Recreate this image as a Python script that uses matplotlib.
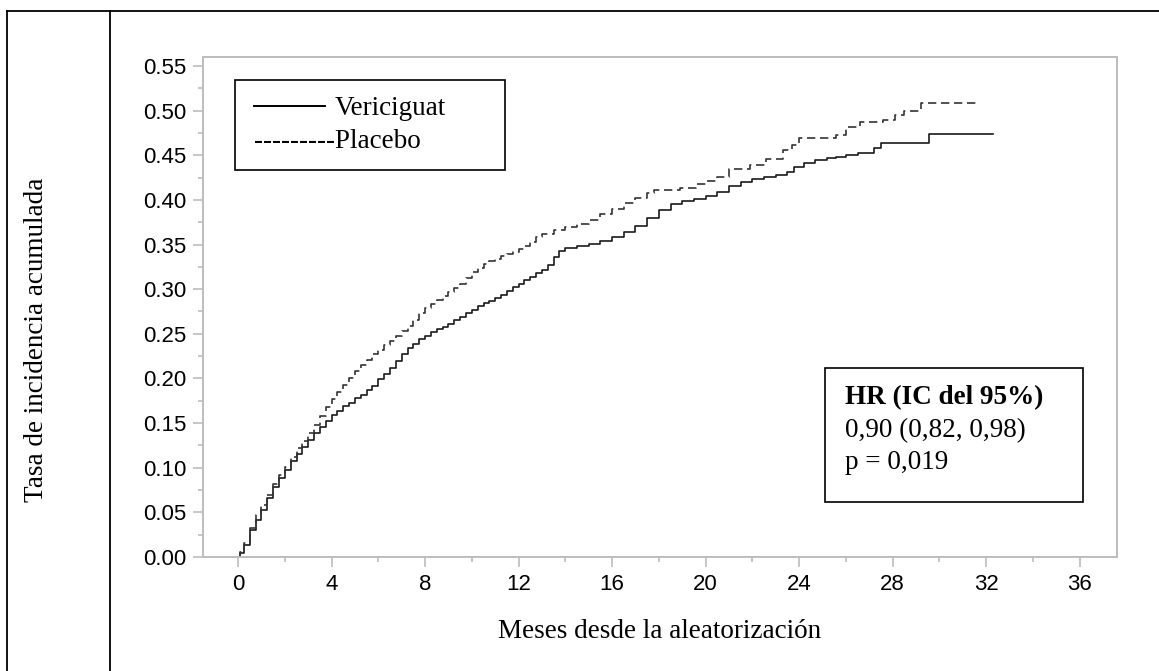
import matplotlib
matplotlib.use("Agg")
import matplotlib.pyplot as plt
from matplotlib.lines import Line2D
from matplotlib.patches import Rectangle

# ---- data ----
veri_t = [0, 0.1, 0.25, 0.5, 0.75, 1.0, 1.25, 1.5, 1.75, 2.0, 2.25, 2.5, 2.75, 3.0, 3.25,
          3.5, 3.75, 4.0, 4.25, 4.5, 4.75, 5.0, 5.25, 5.5, 5.75, 6.0, 6.25, 6.5, 6.75, 7.0,
          7.25, 7.5, 7.75, 8.0, 8.25, 8.5, 8.75, 9.0, 9.25, 9.5, 9.75, 10.0, 10.25, 10.5,
          10.75, 11.0, 11.25, 11.5, 11.75, 12.0, 12.25, 12.5, 12.75, 13.0, 13.25, 13.5,
          13.75, 14.0, 14.5, 15.0, 15.5, 16.0, 16.5, 17.0, 17.5, 18.0, 18.5, 19.0, 19.5,
          20.0, 20.5, 21.0, 21.5, 22.0, 22.5, 23.0, 23.5, 23.8, 24.2, 24.7, 25.2, 25.6,
          26.0, 26.5, 27.2, 27.5, 29.55, 32.3]
veri_v = [0, 0.005, 0.014, 0.030, 0.042, 0.053, 0.066, 0.078, 0.089, 0.098, 0.107, 0.115,
          0.123, 0.131, 0.139, 0.146, 0.152, 0.159, 0.164, 0.169, 0.173, 0.178, 0.182, 0.187,
          0.192, 0.199, 0.205, 0.212, 0.219, 0.227, 0.234, 0.239, 0.244, 0.248, 0.252, 0.255,
          0.258, 0.261, 0.265, 0.269, 0.273, 0.277, 0.281, 0.284, 0.287, 0.290, 0.294, 0.298,
          0.302, 0.306, 0.310, 0.314, 0.318, 0.322, 0.327, 0.336, 0.343, 0.346, 0.348, 0.351,
          0.354, 0.358, 0.364, 0.371, 0.380, 0.389, 0.395, 0.399, 0.401, 0.404, 0.409, 0.416,
          0.420, 0.423, 0.426, 0.428, 0.431, 0.437, 0.441, 0.445, 0.447, 0.448, 0.450, 0.452,
          0.458, 0.464, 0.474, 0.474]

plac_t = [0, 0.1, 0.25, 0.5, 0.75, 1.0, 1.25, 1.5, 1.75, 2.0, 2.25, 2.5, 2.75, 3.0, 3.25,
          3.5, 3.75, 4.0, 4.25, 4.5, 4.75, 5.0, 5.25, 5.5, 5.75, 6.0, 6.25, 6.5, 6.75, 7.0,
          7.25, 7.5, 7.75, 8.0, 8.25, 8.5, 8.75, 9.0, 9.25, 9.5, 9.75, 10.0, 10.25, 10.5,
          10.75, 11.0, 11.25, 11.5, 11.75, 12.0, 12.25, 12.5, 12.75, 13.0, 13.5, 14.0, 14.5,
          15.0, 15.5, 16.0, 16.5, 17.0, 17.5, 17.8, 18.9, 19.6, 20.0, 20.5, 21.0, 21.9, 22.6,
          23.3, 23.7, 24.0, 25.4, 25.6, 26.0, 26.6, 27.6, 28.1, 28.5, 29.2, 31.6]
plac_v = [0, 0.006, 0.016, 0.033, 0.047, 0.058, 0.070, 0.082, 0.092, 0.101, 0.112, 0.122,
          0.130, 0.139, 0.148, 0.158, 0.168, 0.177, 0.185, 0.193, 0.201, 0.208, 0.215, 0.221,
          0.227, 0.232, 0.237, 0.242, 0.248, 0.253, 0.259, 0.266, 0.273, 0.279, 0.283, 0.288,
          0.292, 0.297, 0.301, 0.306, 0.313, 0.319, 0.324, 0.328, 0.331, 0.334, 0.337, 0.339,
          0.342, 0.345, 0.348, 0.353, 0.358, 0.362, 0.366, 0.370, 0.373, 0.378, 0.384, 0.390,
          0.396, 0.402, 0.408, 0.411, 0.413, 0.418, 0.421, 0.426, 0.435, 0.439, 0.446, 0.456,
          0.462, 0.469, 0.469, 0.473, 0.482, 0.487, 0.489, 0.495, 0.500, 0.509, 0.509]

x_ticks = [0, 4, 8, 12, 16, 20, 24, 28, 32, 36]
y_ticks = [0.00, 0.05, 0.10, 0.15, 0.20, 0.25, 0.30, 0.35, 0.40, 0.45, 0.50, 0.55]
y_ticklabels = ["%.2f" % v for v in y_ticks]

legend_labels = ["Vericiguat", "---------Placebo"]
hr_lines = ["HR (IC del 95%)", "0,90 (0,82, 0,98)", "p = 0,019"]
xlabel = "Meses desde la aleatorización"
ylabel = "Tasa de incidencia acumulada"

# ---- figure ----
W, H = 1159, 671
fig = plt.figure(figsize=(W / 100, H / 100), dpi=100)
fig.patch.set_facecolor("white")

def fx(x):
    return x / W

def fy(y):
    return 1 - y / H

SERIF = "Liberation Serif"
SANS = "Liberation Sans"
GRAY = "#bdbdbd"
TFS = 19.5

ax = fig.add_axes([fx(203), fy(557), (1117 - 203) / W, (557 - 57) / H])
ax.plot(veri_t, veri_v, drawstyle="steps-post", color="#1a1a1a", lw=1.2)
ax.plot(plac_t, plac_v, drawstyle="steps-post", color="#333333", lw=1.2,
        linestyle=(0, (5, 2.8)))

ax.set_xlim(-1.5, 37.6)
ax.set_ylim(0, 0.56)
ax.set_xticks(x_ticks)
ax.set_xticks([2 + 4 * i for i in range(9)], minor=True)
ax.set_yticks(y_ticks)
ax.set_yticks([0.025 + 0.05 * i for i in range(11)], minor=True)
ax.set_yticklabels(y_ticklabels)
for s in ax.spines.values():
    s.set_color(GRAY)
    s.set_linewidth(1.4)
ax.tick_params(which="major", direction="out", length=7, width=1.2, color=GRAY,
               labelsize=16, pad=5)
ax.tick_params(which="minor", direction="out", length=3.5, width=1.2, color=GRAY)
for lab in ax.get_xticklabels() + ax.get_yticklabels():
    lab.set_fontfamily(SANS)

# axis labels as figure text
fig.text(fx(660), fy(632), xlabel, family=SERIF, fontsize=TFS, ha="center", va="center")
fig.text(fx(37), fy(340), ylabel, family=SERIF, fontsize=TFS, ha="center", va="center",
         rotation=90)

# outer frame lines
fig.add_artist(Line2D([fx(7), fx(7)], [fy(11), 0], color="black", lw=1.3))
fig.add_artist(Line2D([fx(7), 1], [fy(11), fy(11)], color="black", lw=1.3))
fig.add_artist(Line2D([fx(110), fx(110)], [fy(11), 0], color="black", lw=1.3))

# legend box
fig.add_artist(Rectangle((fx(235), fy(170)), fx(505) - fx(235), fy(80) - fy(170),
                         transform=fig.transFigure, fill=True, facecolor="white",
                         edgecolor="black", lw=1.2))
fig.add_artist(Line2D([fx(254), fx(325)], [fy(106), fy(106)], color="black", lw=1.4))
fig.text(fx(335), fy(115), legend_labels[0], family=SERIF, fontsize=TFS, va="baseline")
fig.text(fx(254), fy(148), legend_labels[1], family=SERIF, fontsize=TFS, va="baseline")

# HR box
fig.add_artist(Rectangle((fx(825), fy(502)), fx(1083) - fx(825), fy(368) - fy(502),
                         transform=fig.transFigure, fill=True, facecolor="white",
                         edgecolor="black", lw=1.2))
fig.text(fx(845), fy(404), hr_lines[0], family=SERIF, fontsize=TFS, weight="bold",
         va="baseline")
fig.text(fx(845), fy(437), hr_lines[1], family=SERIF, fontsize=TFS, va="baseline")
fig.text(fx(845), fy(469), hr_lines[2], family=SERIF, fontsize=TFS, va="baseline")

fig.savefig("out.png", dpi=100)
